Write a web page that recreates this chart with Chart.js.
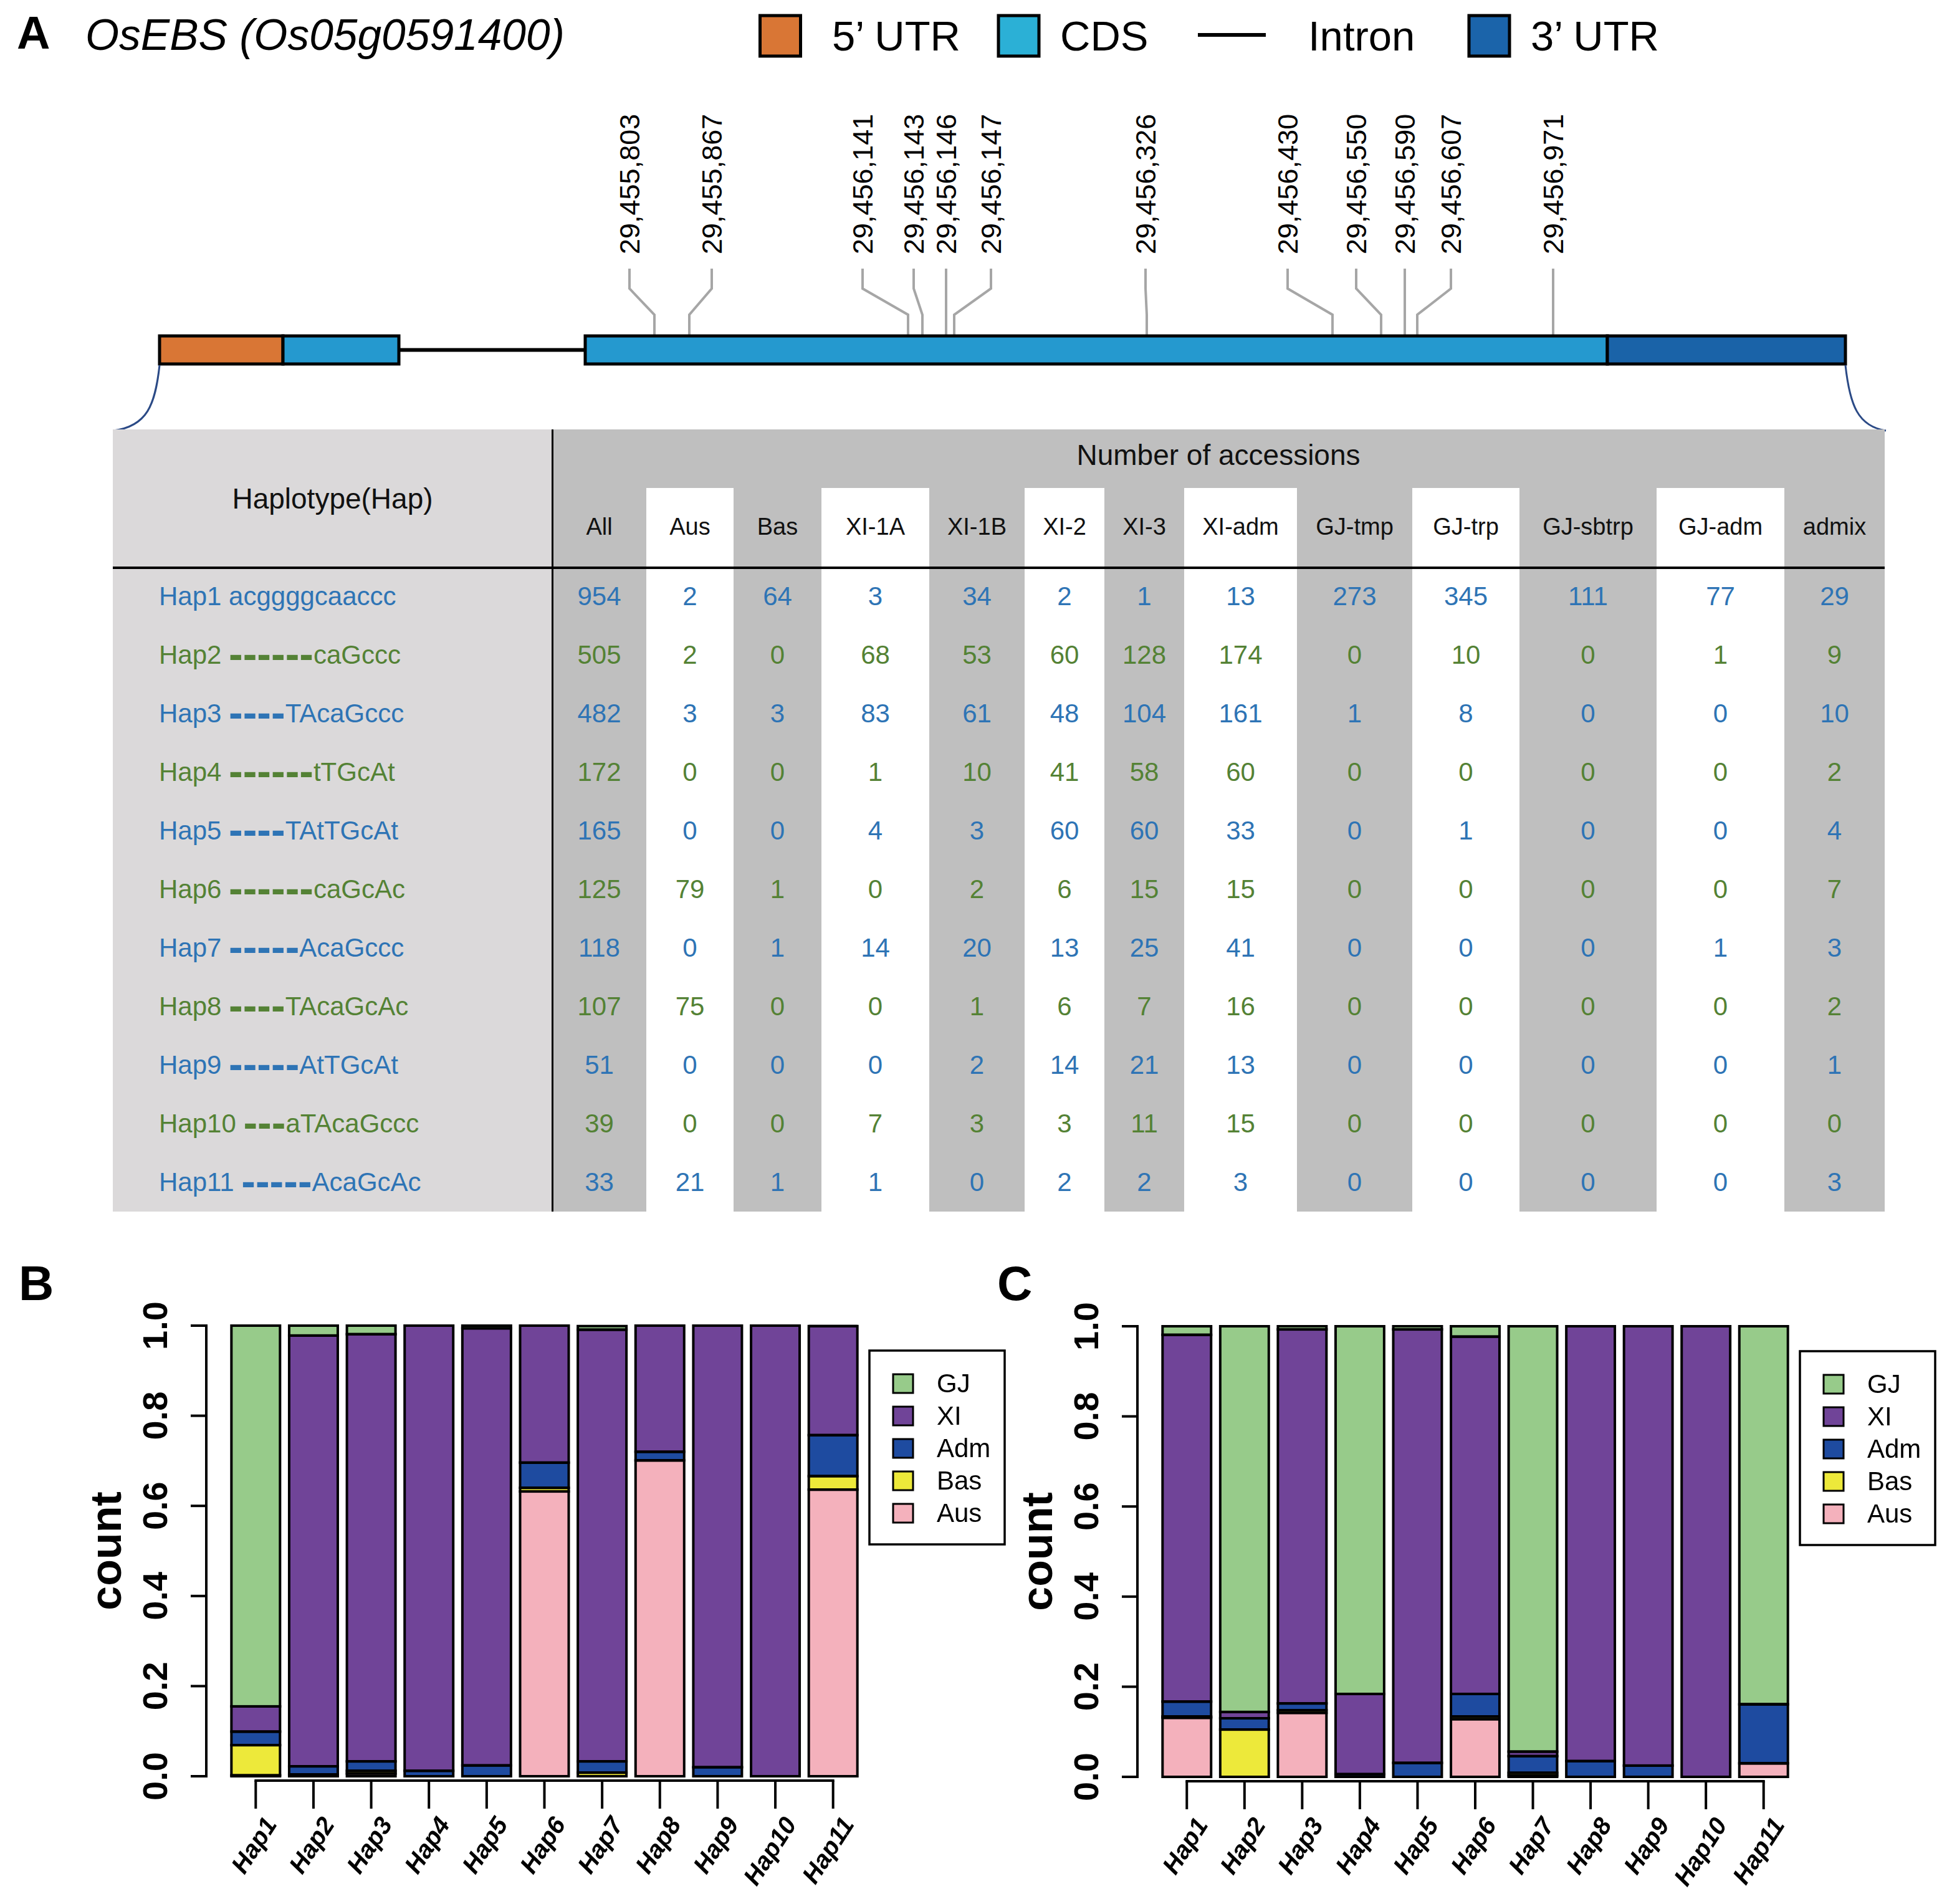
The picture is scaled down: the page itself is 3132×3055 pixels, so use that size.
<!DOCTYPE html>
<html><head><meta charset="utf-8"><title>OsEBS haplotypes</title>
<script src="https://cdn.jsdelivr.net/npm/chart.js@4.4.1/dist/chart.umd.min.js"></script>
<style>
html,body{margin:0;padding:0;background:#fff}
body{position:relative;width:3132px;height:3055px;overflow:hidden;font-family:"Liberation Sans",Arial,Helvetica,sans-serif}
#deco{position:absolute;left:0;top:0}
.cell{position:absolute;white-space:nowrap;text-align:center}
.bg{position:absolute}
canvas{position:absolute}
.dash{font-size:68px;font-weight:bold;position:relative;top:8px;line-height:0}
</style></head><body>
<svg id="deco" width="3132" height="3055" xmlns="http://www.w3.org/2000/svg"></svg>
<div id="tbl"></div>
<canvas id="chartB" width="1630" height="1055" style="left:0;top:2000px;width:1630px;height:1055px"></canvas>
<canvas id="chartC" width="1532" height="1055" style="left:1600px;top:2000px;width:1532px;height:1055px"></canvas>
<script>
// ---------------- data ----------------
const geneTitle = 'OsEBS (Os05g0591400)';
const featureLegend = ['5\u2019 UTR', 'CDS', 'Intron', '3\u2019 UTR'];
const snpPositions = ['29,455,803','29,455,867','29,456,141','29,456,143','29,456,146','29,456,147',
                      '29,456,326','29,456,430','29,456,550','29,456,590','29,456,607','29,456,971'];
const haplotypes = ['Hap1','Hap2','Hap3','Hap4','Hap5','Hap6','Hap7','Hap8','Hap9','Hap10','Hap11'];
const hapSequences = ['acggggcaaccc','------caGccc','----TAcaGccc','------tTGcAt','----TAtTGcAt',
                      '------caGcAc','-----AcaGccc','----TAcaGcAc','-----AtTGcAt','---aTAcaGccc','-----AcaGcAc'];
const groupColumns = ['All','Aus','Bas','XI-1A','XI-1B','XI-2','XI-3','XI-adm','GJ-tmp','GJ-trp','GJ-sbtrp','GJ-adm','admix'];
const countAll    = [954,505,482,172,165,125,118,107,51,39,33];
const countAus    = [2,2,3,0,0,79,0,75,0,0,21];
const countBas    = [64,0,3,0,0,1,1,0,0,0,1];
const countXI1A   = [3,68,83,1,4,0,14,0,0,7,1];
const countXI1B   = [34,53,61,10,3,2,20,1,2,3,0];
const countXI2    = [2,60,48,41,60,6,13,6,14,3,2];
const countXI3    = [1,128,104,58,60,15,25,7,21,11,2];
const countXIadm  = [13,174,161,60,33,15,41,16,13,15,3];
const countGJtmp  = [273,0,1,0,0,0,0,0,0,0,0];
const countGJtrp  = [345,10,8,0,1,0,0,0,0,0,0];
const countGJsbtrp= [111,0,0,0,0,0,0,0,0,0,0];
const countGJadm  = [77,1,0,0,0,0,1,0,0,0,0];
const countAdmix  = [29,9,10,2,4,7,3,2,1,0,3];

const groupNames = ['Aus','Bas','Adm','XI','GJ'];
// panel B proportions
const bAus = [0.002,0.004,0.006,0,0,0.632,0,0.701,0,0,0.636];
const bBas = [0.067,0,0.006,0,0,0.008,0.008,0,0,0,0.030];
const bAdm = [0.030,0.018,0.021,0.012,0.024,0.056,0.025,0.019,0.020,0,0.091];
const bXI  = [0.056,0.956,0.948,0.988,0.970,0.304,0.958,0.280,0.980,1,0.242];
const bGJ  = [0.845,0.022,0.019,0,0.006,0,0.008,0,0,0,0];
// panel C proportions
const cAus = [0.131,0,0.142,0,0,0.128,0.003,0,0,0,0.030];
const cBas = [0.003,0.105,0.006,0,0,0.006,0.006,0,0,0,0];
const cAdm = [0.033,0.025,0.015,0.006,0.031,0.050,0.037,0.035,0.025,0,0.131];
const cXI  = [0.814,0.014,0.830,0.178,0.962,0.793,0.010,0.965,0.975,1,0];
const cGJ  = [0.019,0.856,0.007,0.816,0.007,0.023,0.944,0,0,0,0.839];
const yTickLabels = ['0.0','0.2','0.4','0.6','0.8','1.0'];
const yAxisTitle = 'count';

// ---------------- styles / layout ----------------
const FONT = '"Liberation Sans", Arial, Helvetica, sans-serif';
const groupColors = ['#f4b1bc','#ede93a','#1e4ba0','#704498','#97cb8a'];
const featureColors = ['#d97635','#2bb0d6','#000000','#1b64aa'];
const geneColors = {utr5:'#d97635', cds:'#2599cf', utr3:'#1a63a8'};
const blueText = '#2e74b5', greenText = '#548235';

// ---------------- panel A graphics (svg) ----------------
const svg = document.getElementById('deco');
let s = '';
s += `<text x="27" y="78" font-family='${FONT}' font-weight="bold" font-size="74">A</text>`;
s += `<text x="137" y="80" font-family='${FONT}' font-style="italic" font-size="69.5">${geneTitle}</text>`;
// feature legend
const legBoxX = [1219.5, 1602, null, 2357];
const legTextX = [1335, 1701, 2099, 2456];
featureLegend.forEach((f, i) => {
  if (legBoxX[i] !== null) {
    s += `<rect x="${legBoxX[i]}" y="25" width="65" height="65" fill="${featureColors[i]}" stroke="#000" stroke-width="5"/>`;
  } else {
    s += `<line x1="1922" y1="56" x2="2031" y2="56" stroke="#000" stroke-width="6"/>`;
  }
  s += `<text x="${legTextX[i]}" y="81" font-family='${FONT}' font-size="67">${f}</text>`;
});
// SNP labels and leader lines
const labelX  = [1010,1142,1384,1466,1518,1590,1838,2066,2176,2254,2328,2492];
const anchorX = [1050,1106,1457,1480,1518,1531,1840,2138,2216,2254,2274,2492];
snpPositions.forEach((p, i) => {
  s += `<text transform="translate(${labelX[i]+16},408) rotate(-90)" font-family='${FONT}' font-size="45">${p}</text>`;
  s += `<polyline points="${labelX[i]},431 ${labelX[i]},463 ${anchorX[i]},505 ${anchorX[i]},537" fill="none" stroke="#a6a6a6" stroke-width="4"/>`;
});
// gene model
s += `<line x1="641" y1="561.5" x2="938" y2="561.5" stroke="#000" stroke-width="6"/>`;
s += `<rect x="256" y="539" width="198" height="45" fill="${geneColors.utr5}" stroke="#000" stroke-width="5"/>`;
s += `<rect x="454" y="539" width="186" height="45" fill="${geneColors.cds}" stroke="#000" stroke-width="5"/>`;
s += `<rect x="939" y="539" width="1640" height="45" fill="${geneColors.cds}" stroke="#000" stroke-width="5"/>`;
s += `<rect x="2579" y="539" width="382" height="45" fill="${geneColors.utr3}" stroke="#000" stroke-width="5"/>`;
s += `<line x1="2579" y1="539" x2="2579" y2="584" stroke="#000" stroke-width="3"/>`;
// zoom brackets
s += `<path d="M256,586 C249,650 236,684 182,691" fill="none" stroke="#2b4a86" stroke-width="3"/>`;
s += `<path d="M2961,586 C2968,650 2981,684 3026,691" fill="none" stroke="#2b4a86" stroke-width="3"/>`;
// panel letters B, C
s += `<text x="30" y="2086" font-family='${FONT}' font-weight="bold" font-size="78">B</text>`;
s += `<text x="1600" y="2086" font-family='${FONT}' font-weight="bold" font-size="78">C</text>`;
svg.innerHTML = s;

// ---------------- table ----------------
const countColumns = [countAll,countAus,countBas,countXI1A,countXI1B,countXI2,countXI3,countXIadm,
                      countGJtmp,countGJtrp,countGJsbtrp,countGJadm,countAdmix];
const colEdges = [886,1037,1177,1318,1491,1644,1772,1900,2081,2266,2438,2658,2863,3024];
const TB = {left:181, top:689, right:3024, bottom:1944, whiteTop:783, ruleY:909, headerY:845,
            titleY:730, hapTitleY:800, firstRowY:957, rowStep:94, labelX:255};
const tbl = document.getElementById('tbl');
let h = '';
h += `<div class="bg" style="left:${TB.left}px;top:${TB.top}px;width:${colEdges[0]-TB.left}px;height:${TB.bottom-TB.top}px;background:#dbd9da"></div>`;
h += `<div class="bg" style="left:${colEdges[0]}px;top:${TB.top}px;width:${TB.right-colEdges[0]}px;height:${TB.bottom-TB.top}px;background:#bfbfbf"></div>`;
groupColumns.forEach((c, i) => {
  if (i % 2 === 1) {
    h += `<div class="bg" style="left:${colEdges[i]}px;top:${TB.whiteTop}px;width:${colEdges[i+1]-colEdges[i]}px;height:${TB.bottom-TB.whiteTop}px;background:#fff"></div>`;
  }
});
h += `<div class="bg" style="left:${TB.left}px;top:${TB.ruleY}px;width:${TB.right-TB.left}px;height:4px;background:#000"></div>`;
h += `<div class="bg" style="left:${colEdges[0]-1}px;top:${TB.top}px;width:3px;height:${TB.bottom-TB.top}px;background:#000"></div>`;
function cell(cx, cy, w, text, size, color, align) {
  const left = align === 'left' ? cx : cx - w/2;
  return `<div class="cell" style="left:${left}px;top:${cy-30}px;width:${w}px;height:60px;line-height:60px;font-size:${size}px;color:${color};text-align:${align||'center'}">${text}</div>`;
}
h += cell((TB.left+colEdges[0])/2, TB.hapTitleY, 600, 'Haplotype(Hap)', 46, '#111');
h += cell((colEdges[0]+TB.right)/2, TB.titleY, 800, 'Number of accessions', 46, '#111');
groupColumns.forEach((c, i) => {
  h += cell((colEdges[i]+colEdges[i+1])/2, TB.headerY, 220, c, 38, '#111');
});
haplotypes.forEach((hap, r) => {
  const cy = TB.firstRowY + r*TB.rowStep;
  const color = r % 2 === 0 ? blueText : greenText;
  const seq = hapSequences[r].replace(/^(-+)/, '<span class="dash">$1</span>');
  h += cell(TB.labelX, cy, 600, hap + ' ' + seq, 42, color, 'left');
  countColumns.forEach((col, i) => {
    h += cell((colEdges[i]+colEdges[i+1])/2, cy, 180, String(col[r]), 42, color);
  });
});
tbl.innerHTML = h;

// ---------------- bar charts (Chart.js) ----------------
const rStylePlugin = {
  id: 'rStyle',
  afterDatasetsDraw(chart) {
    const ctx = chart.ctx;
    ctx.save();
    ctx.strokeStyle = '#000'; ctx.lineWidth = 4; ctx.lineJoin = 'miter';
    chart.data.datasets.forEach((ds, i) => {
      const meta = chart.getDatasetMeta(i);
      meta.data.forEach(el => {
        const p = el.getProps(['x','y','base','width'], true);
        const top = Math.min(p.y, p.base), hh = Math.abs(p.base - p.y);
        ctx.strokeRect(p.x - p.width/2, top, p.width, hh);
      });
    });
    ctx.restore();
  },
  afterDraw(chart) {
    const {ctx, chartArea: ca} = chart;
    const xs = chart.scales.x, ys = chart.scales.y;
    ctx.save();
    ctx.strokeStyle = '#000'; ctx.fillStyle = '#000'; ctx.lineWidth = 4; ctx.lineCap = 'butt';
    // y axis
    const ax = ca.left - 33;
    const y0 = ys.getPixelForValue(0), y1 = ys.getPixelForValue(1);
    ctx.beginPath(); ctx.moveTo(ax, y0 + 2); ctx.lineTo(ax, y1 - 2); ctx.stroke();
    ctx.font = `bold 56px ${FONT}`;
    ctx.textAlign = 'center'; ctx.textBaseline = 'middle';
    yTickLabels.forEach(lab => {
      const py = ys.getPixelForValue(parseFloat(lab));
      ctx.beginPath(); ctx.moveTo(ax, py); ctx.lineTo(ax - 25, py); ctx.stroke();
      ctx.save(); ctx.translate(ax - 78, py); ctx.rotate(-Math.PI/2); ctx.fillText(lab, 0, 0); ctx.restore();
    });
    ctx.font = `bold 70px ${FONT}`;
    ctx.save(); ctx.translate(ax - 156, (y0 + y1)/2); ctx.rotate(-Math.PI/2); ctx.fillText(yAxisTitle, 0, 0); ctx.restore();
    // x axis
    const xa = ca.bottom + 7;
    const xf = xs.getPixelForValue(0), xl = xs.getPixelForValue(haplotypes.length - 1);
    ctx.beginPath(); ctx.moveTo(xf - 2, xa); ctx.lineTo(xl + 2, xa); ctx.stroke();
    ctx.font = `italic bold 40px ${FONT}`;
    ctx.textAlign = 'right'; ctx.textBaseline = 'middle';
    haplotypes.forEach((lab, i) => {
      const px = xs.getPixelForValue(i);
      ctx.beginPath(); ctx.moveTo(px, xa); ctx.lineTo(px, xa + 45); ctx.stroke();
      ctx.save(); ctx.translate(px + 26, xa + 64); ctx.rotate(-57 * Math.PI / 180); ctx.fillText(lab, 0, 0); ctx.restore();
    });
    // legend
    const bx = ca.right + 12, by = ca.top + 40, bw = 217, bh = 311;
    ctx.lineWidth = 3.5; ctx.strokeRect(bx, by, bw, bh);
    ctx.font = `42px ${FONT}`; ctx.textAlign = 'left'; ctx.textBaseline = 'middle';
    chart.data.datasets.slice().reverse().forEach((ds, k) => {
      const cy = by + 53 + k * 52;
      ctx.fillStyle = ds.backgroundColor; ctx.fillRect(bx + 38, cy - 15, 32, 30);
      ctx.lineWidth = 3; ctx.strokeRect(bx + 38, cy - 15, 32, 30);
      ctx.fillStyle = '#000'; ctx.fillText(ds.label, bx + 108, cy + 2);
    });
    ctx.restore();
  }
};

function makeChart(id, series, padding) {
  return new Chart(document.getElementById(id), {
    type: 'bar',
    data: {
      labels: haplotypes,
      datasets: groupNames.map((g, i) => ({
        label: g, data: series[i], backgroundColor: groupColors[i],
        borderWidth: 0, barPercentage: 0.842, categoryPercentage: 1.0
      }))
    },
    options: {
      responsive: false, animation: false, devicePixelRatio: 1,
      layout: { padding },
      plugins: { legend: { display: false }, tooltip: { enabled: false } },
      scales: {
        x: { stacked: true, display: false, offset: true },
        y: { stacked: true, display: false, min: 0, max: 1 }
      }
    },
    plugins: [rStylePlugin]
  });
}
makeChart('chartB', [bAus, bBas, bAdm, bXI, bGJ], {left: 364, right: 247, top: 127, bottom: 205});
makeChart('chartC', [cAus, cBas, cAdm, cXI, cGJ], {left: 258, right: 256, top: 128, bottom: 204});
</script>
</body></html>
